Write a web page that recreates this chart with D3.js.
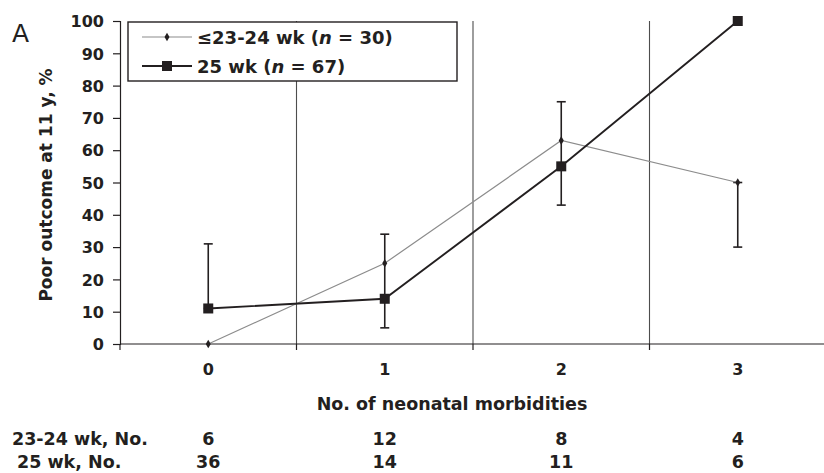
<!DOCTYPE html>
<html>
<head>
<meta charset="utf-8">
<script src="https://cdn.jsdelivr.net/npm/d3@7"></script>
<style>
  body { margin: 0; background: #fff; }
  svg text { font-family: "DejaVu Sans", sans-serif; font-weight: bold; fill: #231f20; }
</style>
</head>
<body>
<div id="graph"></div>
<script>
// values
const categories = ["0", "1", "2", "3"];
const poorEarly = [0, 25, 63, 50];     // <=23-24 wk
const poor25 = [11, 14, 55, 100];      // 25 wk
const errLow = [11, 5, 43, 30];
const errHigh = [31, 34, 75, 50];
const nEarly = [6, 12, 8, 4];
const n25 = [36, 14, 11, 6];
const rowLabels = ["23-24 wk, No.", "25 wk, No."];

const width = 824, height = 473;
const ink = "#231f20";

const svg = d3.select("#graph")
  .append("svg")
    .attr("width", width)
    .attr("height", height);

const xaxis = d3.scaleBand()
  .domain(categories)
  .range([120, 826]);
const yaxis = d3.scaleLinear()
  .domain([0, 100])
  .range([344, 21]);
const cx = (d, i) => xaxis(categories[i]) + xaxis.bandwidth() / 2;

// vertical separators between categories
svg.selectAll("line.grid")
  .data(categories.slice(1))
  .enter()
  .append("line")
    .attr("x1", d => xaxis(d)).attr("x2", d => xaxis(d))
    .attr("y1", yaxis(100)).attr("y2", yaxis(0))
    .attr("stroke", "#4d4d4d").attr("stroke-width", 1.1);

// y axis
const gy = svg.append("g")
  .attr("transform", "translate(120,0)")
  .call(d3.axisLeft(yaxis).ticks(10).tickSize(7).tickPadding(9));
gy.select(".domain").attr("stroke", ink).attr("stroke-width", 1.2);
gy.selectAll(".tick line").attr("stroke", ink).attr("stroke-width", 1.2);
gy.selectAll(".tick text").style("font-size", "16px").attr("dy", "0.36em");

// x axis line + ticks at band edges
svg.append("line")
  .attr("x1", 120).attr("x2", width)
  .attr("y1", yaxis(0)).attr("y2", yaxis(0))
  .attr("stroke", ink).attr("stroke-width", 1.2);
svg.selectAll("line.xtick")
  .data(categories)
  .enter()
  .append("line")
    .attr("x1", d => xaxis(d)).attr("x2", d => xaxis(d))
    .attr("y1", yaxis(0)).attr("y2", yaxis(0) + 6)
    .attr("stroke", ink).attr("stroke-width", 1.2);
svg.selectAll("text.xlab")
  .data(categories)
  .enter()
  .append("text")
    .attr("x", (d, i) => cx(d, i))
    .attr("y", 375)
    .attr("text-anchor", "middle")
    .style("font-size", "16px")
    .text(d => d);

// axis titles
svg.append("text")
  .attr("transform", "translate(52,185)rotate(-90)")
  .attr("text-anchor", "middle")
  .style("font-size", "17px")
  .text("Poor outcome at 11 y, %");
svg.append("text")
  .attr("x", 452).attr("y", 410)
  .attr("text-anchor", "middle")
  .style("font-size", "17.5px")
  .text("No. of neonatal morbidities");

// panel letter
svg.append("text")
  .attr("x", 12).attr("y", 42)
  .style("font-size", "25px").style("font-weight", "normal")
  .text("A");

// error bars
const bars = svg.selectAll("g.err")
  .data(categories)
  .enter()
  .append("g");
bars.append("line")
  .attr("x1", cx).attr("x2", cx)
  .attr("y1", (d, i) => yaxis(errLow[i])).attr("y2", (d, i) => yaxis(errHigh[i]))
  .attr("stroke", ink).attr("stroke-width", 1.6);
[errLow, errHigh].forEach(arr => {
  bars.append("line")
    .attr("x1", (d, i) => cx(d, i) - 4.5).attr("x2", (d, i) => cx(d, i) + 4.5)
    .attr("y1", (d, i) => yaxis(arr[i])).attr("y2", (d, i) => yaxis(arr[i]))
    .attr("stroke", ink).attr("stroke-width", 1.6);
});

// lines
const line = d3.line()
  .x((d, i) => cx(d, i))
  .y(d => yaxis(d));
svg.append("path")
  .datum(poorEarly)
  .attr("d", line)
  .attr("fill", "none").attr("stroke", "#8c8c8c").attr("stroke-width", 1.2);
svg.append("path")
  .datum(poor25)
  .attr("d", line)
  .attr("fill", "none").attr("stroke", ink).attr("stroke-width", 1.9);

const diamond = d3.symbol().type(d3.symbolDiamond).size(22);
svg.selectAll("path.dia")
  .data(poorEarly)
  .enter()
  .append("path")
    .attr("d", diamond)
    .attr("transform", (d, i) => "translate(" + cx(d, i) + "," + yaxis(d) + ")")
    .attr("fill", ink);
svg.selectAll("rect.sq")
  .data(poor25)
  .enter()
  .append("rect")
    .attr("x", (d, i) => cx(d, i) - 5)
    .attr("y", d => yaxis(d) - 5)
    .attr("width", 10).attr("height", 10)
    .attr("fill", ink);

// legend
const legend = svg.append("g");
legend.append("rect")
  .attr("x", 128).attr("y", 22)
  .attr("width", 329).attr("height", 59)
  .attr("fill", "#fff").attr("stroke", ink).attr("stroke-width", 1.4);
const legendRows = [
  {label: "≤23-24 wk (", n: "30", y: 37, color: "#8c8c8c", sw: 1.2, mark: "dia"},
  {label: "25 wk (", n: "67", y: 66, color: ink, sw: 1.9, mark: "sq"}
];
legendRows.forEach(r => {
  legend.append("line")
    .attr("x1", 142).attr("x2", 192)
    .attr("y1", r.y).attr("y2", r.y)
    .attr("stroke", r.color).attr("stroke-width", r.sw);
  if (r.mark == "dia") {
    legend.append("path").attr("d", diamond)
      .attr("transform", "translate(167," + r.y + ")").attr("fill", ink);
  } else {
    legend.append("rect")
      .attr("x", 162).attr("y", r.y - 5).attr("width", 10).attr("height", 10)
      .attr("fill", ink);
  }
  const t = legend.append("text")
    .attr("x", 197).attr("y", r.y + 6.5)
    .style("font-size", "18px");
  t.append("tspan").text(r.label);
  t.append("tspan").style("font-style", "italic").text("n");
  t.append("tspan").text(" = " + r.n + ")");
});

// counts table under the axis
[nEarly, n25].forEach((arr, k) => {
  const yy = k == 0 ? 445 : 468;
  svg.append("text")
    .attr("x", k == 0 ? 12 : 17).attr("y", yy)
    .style("font-size", "17.5px")
    .text(rowLabels[k]);
  svg.selectAll("text.n" + k)
    .data(arr)
    .enter()
    .append("text")
      .attr("x", (d, i) => cx(d, i))
      .attr("y", yy)
      .attr("text-anchor", "middle")
      .style("font-size", "17.5px")
      .text(d => d);
});
</script>
</body>
</html>
